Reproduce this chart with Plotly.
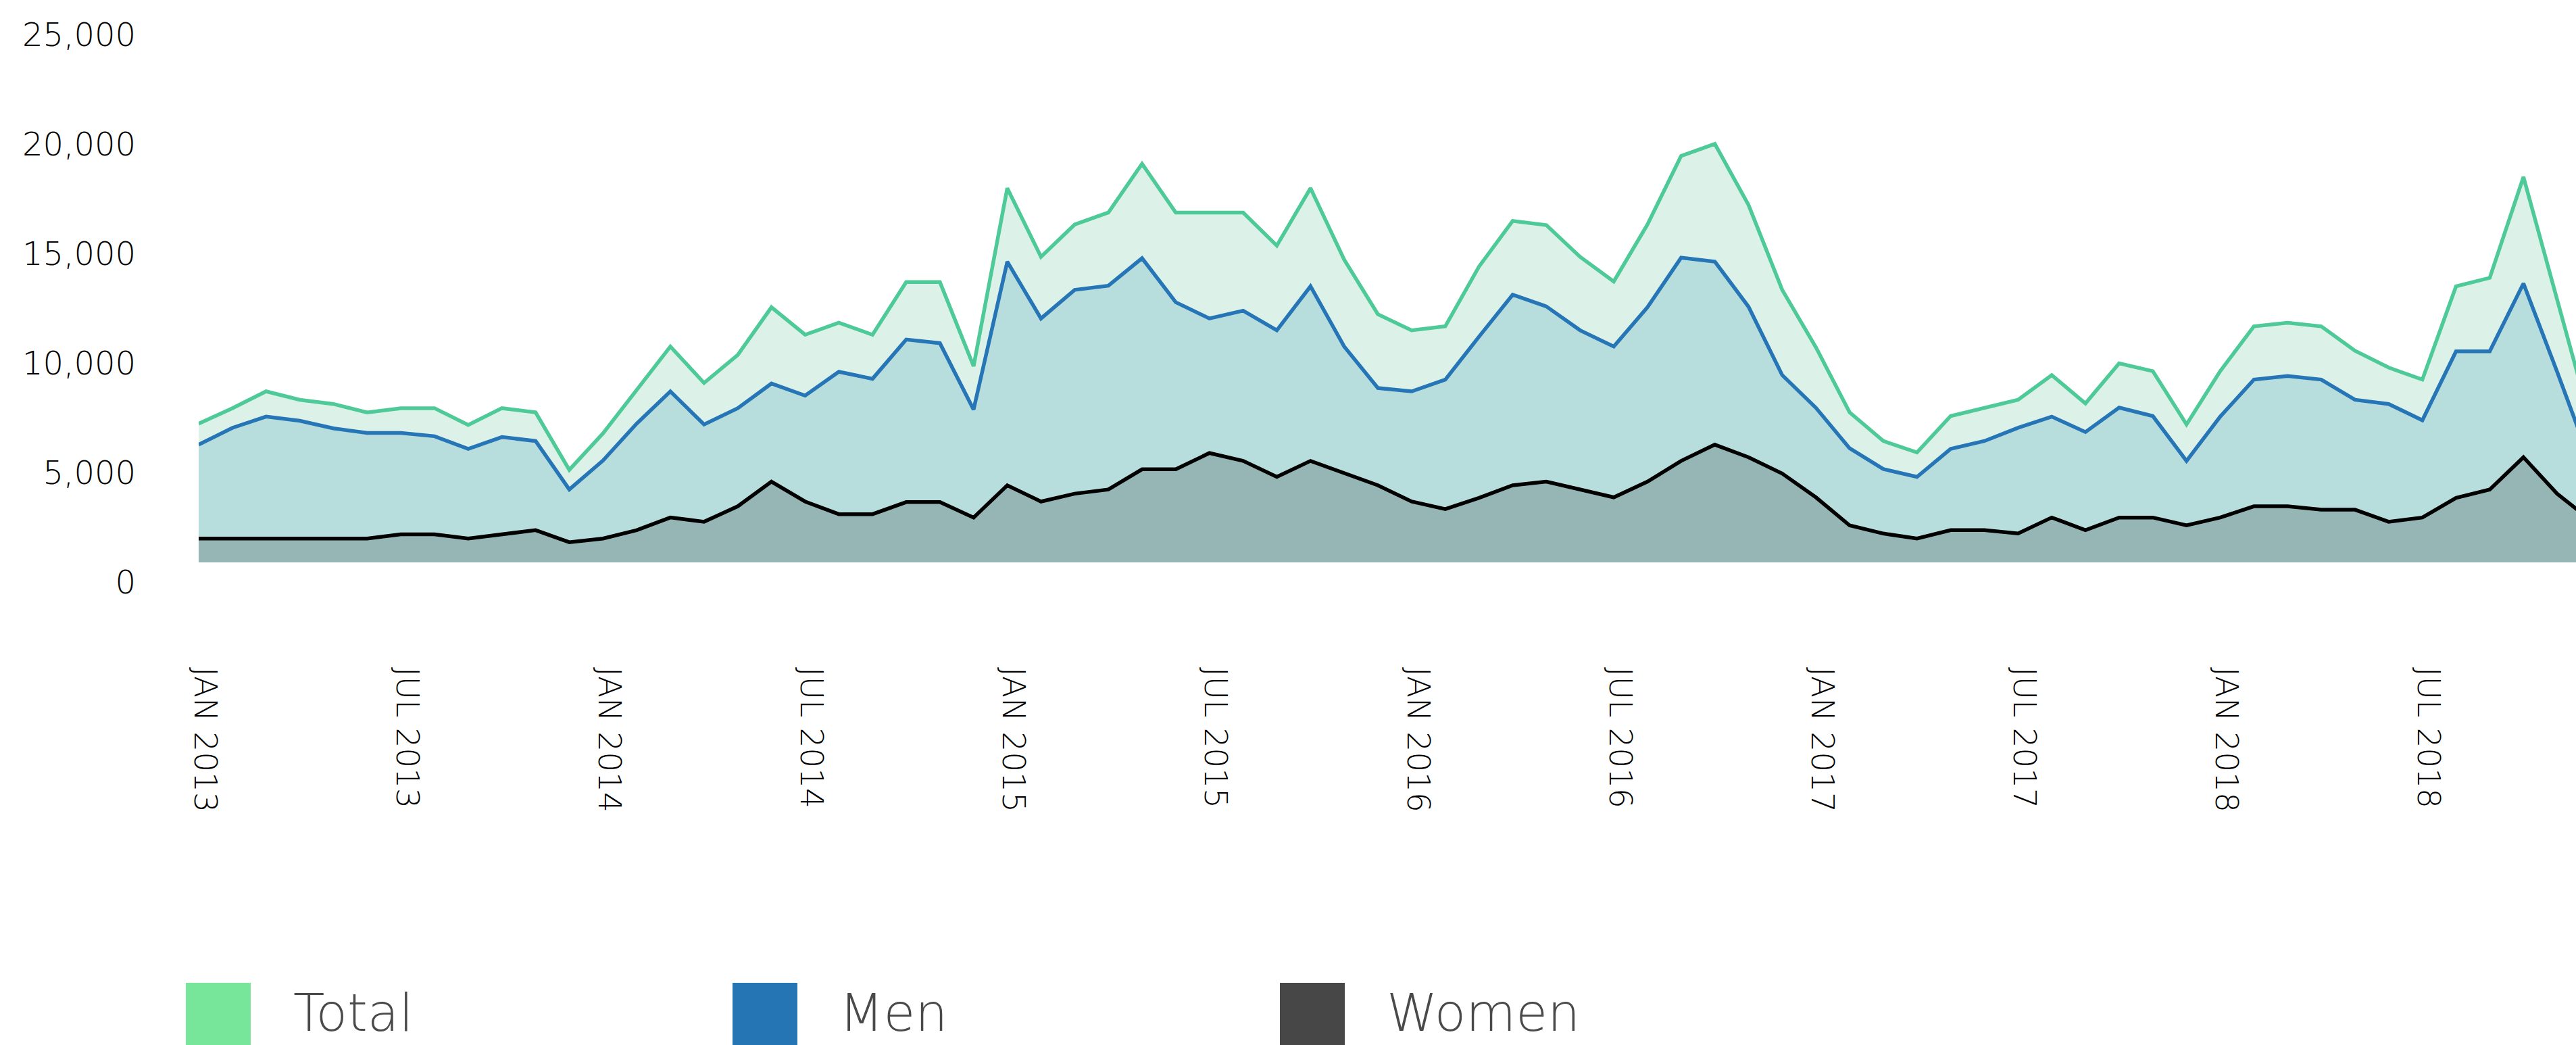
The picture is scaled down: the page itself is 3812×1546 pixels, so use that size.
import plotly.graph_objects as go

# ---------------- data ----------------
months = [f"{y}-{m:02d}" for y in range(2013, 2019) for m in range(1, 13)]

total = [6336, 7040, 7808, 7424, 7232, 6848, 7040, 7040, 6272, 7040, 6848, 4224,
         5888, 7872, 9856, 8192, 9472, 11648, 10394, 10944, 10394, 12800, 12800, 8960,
         17088, 13952, 15424, 15974, 18202, 15974, 15974, 15974, 14464, 17088, 13824, 11328,
         10598, 10778, 13504, 15590, 15398, 13952, 12826, 15424, 18560, 19110, 16320, 12442,
         9820, 6848, 5542, 5018, 6682, 7040, 7424, 8550, 7258, 9088, 8730, 6298,
         8730, 10778, 10944, 10778, 9664, 8896, 8346, 12608, 12992, 17600, 12032, 6400]

men = [5376, 6144, 6656, 6464, 6118, 5914, 5914, 5760, 5184, 5722, 5542, 3328,
       4650, 6336, 7808, 6298, 7040, 8166, 7616, 8704, 8384, 10176, 10010, 6976,
       13728, 11136, 12442, 12634, 13888, 11878, 11136, 11494, 10598, 12608, 9856, 7962,
       7808, 8346, 10304, 12224, 11686, 10598, 9856, 11648, 13914, 13734, 11674, 8550,
       7060, 5210, 4262, 3904, 5184, 5542, 6144, 6656, 5952, 7066, 6682, 4634,
       6656, 8346, 8512, 8346, 7424, 7232, 6490, 9638, 9638, 12736, 8704, 4544]

women = [1088, 1088, 1088, 1088, 1088, 1088, 1280, 1280, 1088, 1280, 1472, 922,
         1088, 1472, 2048, 1856, 2560, 3686, 2778, 2202, 2202, 2752, 2752, 2048,
         3520, 2778, 3136, 3328, 4250, 4250, 4992, 4634, 3904, 4634, 4096, 3520,
         2778, 2432, 2944, 3520, 3686, 3328, 2970, 3686, 4634, 5376, 4800, 4058,
         2970, 1690, 1318, 1088, 1472, 1472, 1318, 2048, 1472, 2048, 2048, 1690,
         2048, 2560, 2560, 2406, 2406, 1856, 2048, 2944, 3328, 4800, 3136, 1920]

tick_months = ["2013-01", "2013-07", "2014-01", "2014-07", "2015-01", "2015-07",
               "2016-01", "2016-07", "2017-01", "2017-07", "2018-01", "2018-07"]
tick_text = ["JAN 2013", "JUL 2013", "JAN 2014", "JUL 2014", "JAN 2015", "JUL 2015",
             "JAN 2016", "JUL 2016", "JAN 2017", "JUL 2017", "JAN 2018", "JUL 2018"]
y_ticks = [0, 5000, 10000, 15000, 20000, 25000]

series_names = ["Total", "Men", "Women"]
line_colors = ["#4ec998", "#2675b6", "#000000"]
fill_colors = ["#dcf2e8", "#b7dedd", "#96b6b5"]
legend_colors = ["#78e69a", "#2574b4", "#474747"]

# ---------------- layout geometry (pixels) ----------------
W, H = 3812, 1546
L, R, T = 294, 0, 22
BOTTOM = 832
PW = W - L - R
PH = BOTTOM - T
FONT = "DejaVu Sans, Open Sans, sans-serif"


def pxx(p):
    return (p - L) / PW


def pxy(p):
    return (BOTTOM - p) / PH


fig = go.Figure()
for name, vals, lc, fc in zip(series_names, [total, men, women], line_colors, fill_colors):
    fig.add_trace(go.Scatter(
        x=months, y=vals, name=name, mode="lines",
        line=dict(color=lc, width=5.5),
        fill="tozeroy", fillcolor=fc,
        showlegend=False, hoverinfo="skip",
    ))

fig.update_layout(
    width=W, height=H,
    margin=dict(l=L, r=R, t=T, b=H - BOTTOM, pad=0),
    paper_bgcolor="white", plot_bgcolor="white",
    xaxis=dict(
        type="category", range=[0, 70.56],
        tickmode="array", tickvals=tick_months, ticktext=tick_text,
        tickangle=90, tickfont=dict(family=FONT, size=47, color="#000000", weight=300),
        showgrid=False, zeroline=False, showline=False, ticks="",
        ticklabelstandoff=154, ticklabelshift=9,
    ),
    yaxis=dict(
        range=[0, 25000], tickmode="array", tickvals=y_ticks, tickformat=",",
        tickfont=dict(family=FONT, size=48, color="#000000", weight=300),
        showgrid=False, zeroline=False, showline=False, ticks="",
        ticklabelshift=29, ticklabelstandoff=92,
    ),
)

# legend drawn as squares + labels
legend_sq_x = [275, 1084, 1894]
legend_txt_x = [432, 1240, 2050]
for name, col, sx, tx in zip(series_names, legend_colors, legend_sq_x, legend_txt_x):
    fig.add_shape(type="rect", xref="paper", yref="paper",
                  x0=pxx(sx), x1=pxx(sx + 96), y0=pxy(1454), y1=pxy(1560),
                  fillcolor=col, line=dict(width=0), layer="above")
    fig.add_annotation(text=name, xref="paper", yref="paper",
                       x=pxx(tx), y=pxy(1545), xanchor="left", yanchor="bottom",
                       showarrow=False,
                       font=dict(family=FONT, size=76, color="#4a4a4a", weight=300))

fig.write_html("out.html", config={"displayModeBar": False},
               post_script="document.body.style.margin='0';document.body.style.overflow='hidden';")
